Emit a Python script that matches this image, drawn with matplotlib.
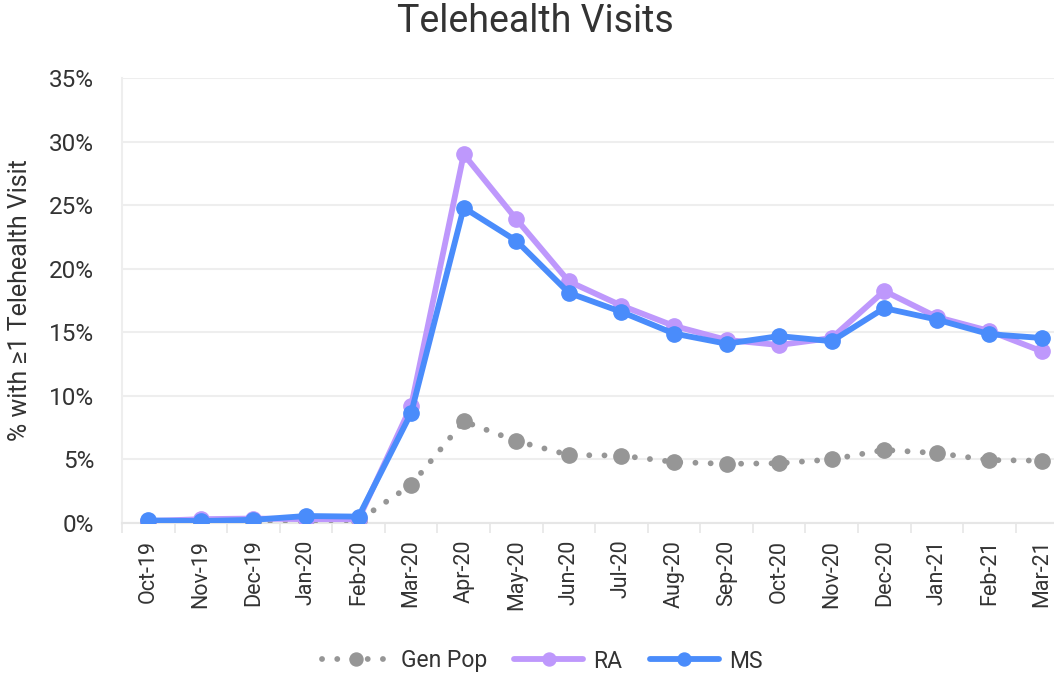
import matplotlib
matplotlib.use("Agg")
import matplotlib.pyplot as plt
from matplotlib.ticker import FuncFormatter, FixedLocator
import numpy as np

months = ["Oct-19", "Nov-19", "Dec-19", "Jan-20", "Feb-20", "Mar-20", "Apr-20", "May-20",
          "Jun-20", "Jul-20", "Aug-20", "Sep-20", "Oct-20", "Nov-20", "Dec-20", "Jan-21",
          "Feb-21", "Mar-21"]
gen_pop = [0.10, 0.10, 0.15, 0.20, 0.20, 3.0, 8.0, 6.45, 5.35, 5.3, 4.8, 4.65, 4.7, 5.0,
           5.75, 5.5, 4.95, 4.9]
ra = [0.15, 0.30, 0.35, 0.30, 0.30, 9.2, 29.0, 23.9, 19.0, 17.1, 15.5, 14.4, 14.0, 14.55,
      18.25, 16.2, 15.1, 13.5]
ms = [0.20, 0.15, 0.25, 0.55, 0.50, 8.65, 24.8, 22.2, 18.1, 16.6, 14.9, 14.1, 14.7, 14.3,
      16.9, 16.0, 14.85, 14.55]
yticks = [0, 5, 10, 15, 20, 25, 30, 35]

plt.rcParams['font.family'] = ['Roboto', 'DejaVu Sans']

W, H = 1054, 675
fig = plt.figure(figsize=(W / 100, H / 100), dpi=100)
ax = fig.add_axes([122 / W, 1 - 523 / H, 1 - 122 / W, (523 - 78) / H])

TXT = "#333333"
x = np.arange(len(months))
ax.plot(x, gen_pop, color="#969696", lw=4.2, ls=(0, (0.01, 2.6)), dash_capstyle="round",
        marker="o", ms=11, label="Gen Pop", zorder=3)
ax.plot(x, ra, color="#BE98FC", lw=4.2, marker="o", ms=11, label="RA", zorder=4,
        solid_capstyle="round", solid_joinstyle="round")
ax.plot(x, ms, color="#4A8CFB", lw=4.2, marker="o", ms=11, label="MS", zorder=5,
        solid_capstyle="round", solid_joinstyle="round")

ax.set_xlim(-0.5, 17 + (1054 - 1042) / 52.5)
ax.set_ylim(0, 35)
ax.set_yticks(yticks)
ax.yaxis.set_major_formatter(FuncFormatter(lambda v, p: f"{int(round(v))}%"))
ax.set_xticks(x)
ax.set_xticklabels(months, rotation=90, fontsize=15.5, color=TXT)
ax.xaxis.set_minor_locator(FixedLocator(np.arange(-0.5, 18, 1)))
ax.tick_params(axis="x", which="major", length=0, pad=12)
ax.tick_params(axis="x", which="minor", length=7, color="#E6E6E6", width=1.2)
ax.tick_params(axis="y", length=0, labelsize=17.5, labelcolor=TXT, pad=20)

ax.grid(axis="y", color="#EEEEEE", lw=1.5)
ax.set_axisbelow(True)
for s in ["top", "right"]:
    ax.spines[s].set_visible(False)
ax.spines["left"].set_color("#EEEEEE")
ax.spines["left"].set_linewidth(1.5)
ax.spines["bottom"].set_color("#E6E6E6")
ax.spines["bottom"].set_linewidth(1.5)

ax.set_ylabel("% with \u22651 Telehealth Visit", fontsize=18, color=TXT, labelpad=12)

fig.text(535 / W, 1 - 22 / H, "Telehealth Visits", ha="center", va="center", fontsize=27,
         color=TXT)

leg = fig.legend(loc="center", bbox_to_anchor=(542 / W, 1 - 661 / H), ncol=3, frameon=False,
                 fontsize=16.5, handlelength=3.0, columnspacing=1.2, handletextpad=0.45,
                 markerscale=0.85)
for t in leg.get_texts():
    t.set_color(TXT)

fig.savefig("out.png", dpi=100, facecolor="white")
